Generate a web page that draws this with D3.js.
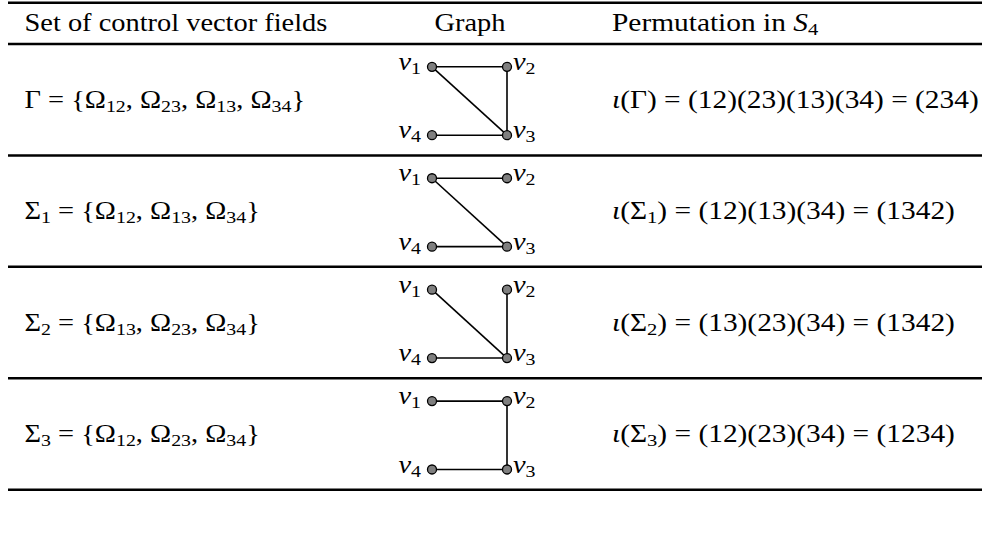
<!DOCTYPE html>
<html lang="en">
<head>
<meta charset="utf-8">
<title>Control vector fields and permutations</title>
<script src="https://cdn.jsdelivr.net/npm/d3@7"></script>
<style>
  body { margin: 0; background: #fff; }
  text { font-family: "Liberation Serif", "DejaVu Serif", serif; fill: #000; }
</style>
</head>
<body>
<script>
// table content
var headers = ["Set of control vector fields", "Graph", "Permutation in "];
var setNames = ["Γ", "Σ", "Σ", "Σ"];
var setIndex = ["", "1", "2", "3"];
var fields = [["12", "23", "13", "34"], ["12", "13", "34"], ["13", "23", "34"], ["12", "23", "34"]];
var products = ["234", "1342", "1342", "1234"];
var vertices = ["1", "2", "3", "4"];

var w = 982, h = 537;
var fs = 24.5;          // font size, px
var stretch = 1.16;     // widen Times toward the reference glyph widths
var stretchRight = 1.2; // parentheses are narrower in Times, so a bit more here

var svg = d3.select("body").append("svg")
  .attr("width", w)
  .attr("height", h);

// row boundaries (header rule .. bottom rule)
var rowY = d3.scaleLinear().domain([0, fields.length]).range([44, 489.7]);

// column positions
var col1 = 24.5, col2 = 470, col3 = 612;

// layout of the little graph inside a row
var gx = d3.scaleOrdinal().domain(vertices).range([432, 507, 507, 432]);
var gy = d3.scaleOrdinal().domain(vertices).range([22.8, 22.8, 91.2, 91.2]);

function mathText(sel, x, y, parts, anchor, sx) {
  var t = sel.append("text")
    .attr("transform", "translate(" + x + "," + y + ") scale(" + (sx || stretch) + ",1)")
    .attr("text-anchor", anchor || "start")
    .attr("font-size", fs);
  var shift = 0;
  parts.forEach(function(p) {
    var s = t.append("tspan").text(p.t);
    var target = p.sub ? 4 : 0;
    s.attr("dy", target - shift);
    shift = target;
    if (p.sub) s.attr("font-size", fs * 0.7);
    if (p.it) s.attr("font-style", "italic");
  });
  return t;
}

// rules
var rules = [2.7].concat(d3.range(fields.length + 1).map(function(i) { return rowY(i); }));
svg.selectAll("line.rule")
  .data(rules)
  .enter()
  .append("line")
  .attr("class", "rule")
  .attr("x1", 8)
  .attr("x2", w)
  .attr("y1", function(d) { return d; })
  .attr("y2", function(d) { return d; })
  .attr("stroke", "#000")
  .attr("stroke-width", 2.5);

// header
var hb = 31;
mathText(svg, col1, hb, [{t: headers[0]}]);
mathText(svg, col2, hb, [{t: headers[1]}], "middle");
mathText(svg, col3, hb, [{t: headers[2]}, {t: "S", it: true}, {t: "4", sub: true}], "start", stretchRight);

// body rows
fields.forEach(function(f, i) {
  var top = rowY(i);
  var base = top + 63.8;
  var name = [{t: setNames[i]}];
  if (setIndex[i]) name.push({t: setIndex[i], sub: true});

  // left column: the set
  var left = name.concat([{t: " = {"}]);
  f.forEach(function(d, j) {
    left.push({t: (j ? ", " : "") + "Ω"});
    left.push({t: d, sub: true});
  });
  left.push({t: "}"});
  mathText(svg, col1, base, left);

  // right column: the permutation
  var right = [{t: "ι", it: true}, {t: "("}].concat(name).concat([
    {t: ") = " + f.map(function(d) { return "(" + d + ")"; }).join("") + " = (" + products[i] + ")"}
  ]);
  mathText(svg, col3, base, right, "start", stretchRight);

  // middle column: the graph
  var g = svg.append("g").attr("transform", "translate(0," + top + ")");
  g.selectAll("line")
    .data(f)
    .enter()
    .append("line")
    .attr("x1", function(d) { return gx(d[0]); })
    .attr("y1", function(d) { return gy(d[0]); })
    .attr("x2", function(d) { return gx(d[1]); })
    .attr("y2", function(d) { return gy(d[1]); })
    .attr("stroke", "#000")
    .attr("stroke-width", 1.6);
  g.selectAll("circle")
    .data(vertices)
    .enter()
    .append("circle")
    .attr("cx", function(d) { return gx(d); })
    .attr("cy", function(d) { return gy(d); })
    .attr("r", 4.5)
    .attr("fill", "#7f7f7f")
    .attr("stroke", "#000")
    .attr("stroke-width", 1.3);
  vertices.forEach(function(d) {
    var onLeft = gx(d) < col2;
    mathText(g, gx(d) + (onLeft ? -11 : 6), gy(d) + 3.2,
      [{t: "v", it: true}, {t: d, sub: true}], onLeft ? "end" : "start");
  });
});
</script>
</body>
</html>
